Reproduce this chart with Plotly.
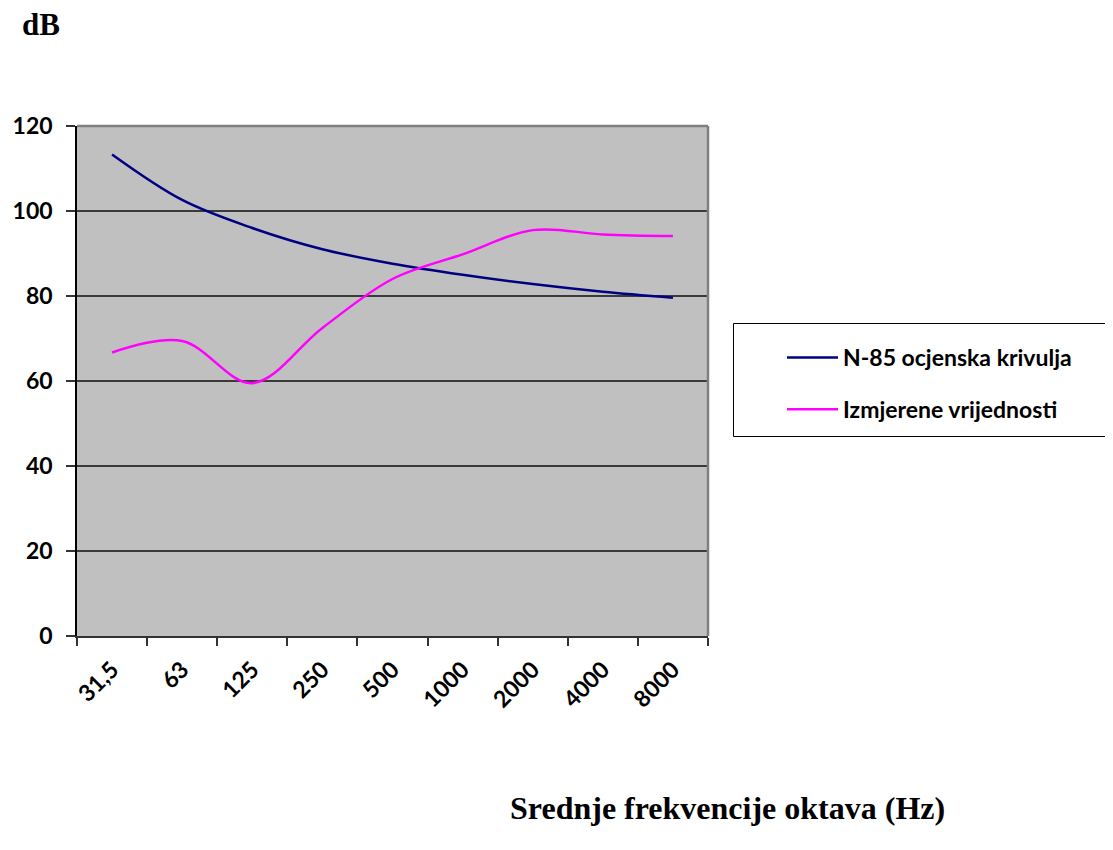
import plotly.graph_objects as go

categories = ["31,5", "63", "125", "250", "500", "1000", "2000", "4000", "8000"]
n85_values = [113.3, 102.6, 96.0, 91.0, 87.6, 85.0, 82.8, 81.0, 79.6]
measured_values = [66.7, 69.4, 59.5, 72.5, 84.0, 89.8, 95.5, 94.5, 94.1]
series_names = ["N-85 ocjenska krivulja", "Izmjerene vrijednosti"]
y_ticks = [0, 20, 40, 60, 80, 100, 120]

OFF = 8  # page body margin
W, H = 1113 - OFF, 850 - 2 * OFF
L, R, T, B = 77 - OFF, 708 - OFF, 126 - OFF, 636 - OFF
pw, ph = R - L, B - T

def px_x(x):
    return (x - OFF - L) / pw

def px_y(y):
    return (B - (y - OFF)) / ph

fig = go.Figure()
fig.add_trace(go.Scatter(
    x=categories, y=n85_values, name=series_names[0], mode="lines",
    line=dict(color="#000080", width=2.5, shape="spline", smoothing=1.0),
    legendgroup="a"))
fig.add_trace(go.Scatter(
    x=categories, y=measured_values, name=series_names[1], mode="lines",
    line=dict(color="#FF00FF", width=2.5, shape="spline", smoothing=1.0),
    legendgroup="b"))

tick_font = dict(family="Lato, 'Open Sans', sans-serif", size=23, color="#000000", weight="bold")

fig.update_layout(
    width=W, height=H,
    margin=dict(l=L, r=W - R, t=T, b=H - B, pad=0, autoexpand=False),
    paper_bgcolor="#FFFFFF",
    plot_bgcolor="#C0C0C0",
    showlegend=True,
    legend=dict(
        x=px_x(782), y=px_y(336), xanchor="left", yanchor="top",
        font=dict(family="Lato, 'Open Sans', sans-serif", size=23, color="#000000", weight="bold"),
        bgcolor="rgba(0,0,0,0)", borderwidth=0,
        tracegroupgap=19, itemwidth=51,
    ),
    xaxis=dict(
        type="category", range=[-0.5, 8.5], tickson="boundaries",
        ticks="outside", ticklen=8, tickwidth=1.5, tickcolor="#333333",
        showline=True, linecolor="#333333", linewidth=2, automargin=False,
        showgrid=False, tickangle=-45, tickfont=tick_font, fixedrange=True,
        ticklabelstandoff=9,
    ),
    yaxis=dict(
        range=[0, 120], tickvals=y_ticks, ticks="outside", ticklen=9,
        tickwidth=1.5, tickcolor="#333333", automargin=False,
        showline=True, linecolor="#000000", linewidth=1.5,
        showgrid=True, gridcolor="#3a3a3a", gridwidth=1.5,
        zeroline=False, tickfont=tick_font, ticklabelstandoff=9, fixedrange=True,
    ),
    shapes=[
        dict(type="line", xref="paper", yref="paper", x0=0, x1=1, y0=1, y1=1,
             line=dict(color="#808080", width=2.5), layer="above"),
        dict(type="line", xref="paper", yref="paper", x0=1, x1=1, y0=0, y1=1,
             line=dict(color="#808080", width=2.5), layer="above"),
        dict(type="rect", xref="paper", yref="paper",
             x0=px_x(733.5), x1=px_x(1125), y0=px_y(323.5), y1=px_y(436.5),
             line=dict(color="#000000", width=1), fillcolor="rgba(0,0,0,0)"),
    ],
    annotations=[
        dict(text="dB", xref="paper", yref="paper", x=px_x(20), y=px_y(24),
             xanchor="left", yanchor="middle", showarrow=False,
             font=dict(family="'Liberation Serif', 'Times New Roman', serif", size=31,
                       color="#000000", weight="bold")),
        dict(text="Srednje frekvencije oktava (Hz)", xref="paper", yref="paper",
             x=px_x(727), y=px_y(808), xanchor="center", yanchor="middle", showarrow=False,
             font=dict(family="'Liberation Serif', 'Times New Roman', serif", size=32,
                       color="#000000", weight="bold")),
    ],
)

fig.write_html("out.html")
